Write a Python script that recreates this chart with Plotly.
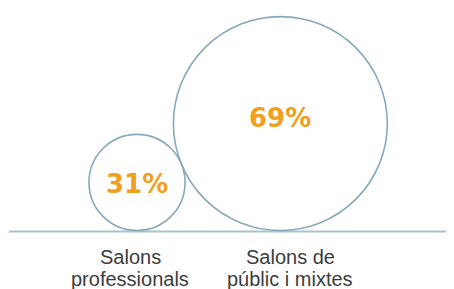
import math
import plotly.graph_objects as go

categories = [["Salons", "professionals"], ["Salons de", "públic i mixtes"]]
values = [31, 69]
value_labels = ["31%", "69%"]

W, H = 454, 289
OFF = 8               # page body margin, so data units equal page pixels
base_y = 230.5
scale = 1.55          # px of radius per percentage point
x_first = 137
label_dx = [-7, 10]
line_y = [257, 279]

r = [v * scale for v in values]
dx = math.sqrt((r[0] + r[1]) ** 2 - (r[1] - r[0]) ** 2)
cx = [x_first, x_first + dx]
cy = [base_y - ri for ri in r]

fig = go.Figure()
fig.add_trace(go.Scatter(x=[OFF, W + OFF], y=[OFF, H + OFF], mode="markers",
                         marker=dict(opacity=0), hoverinfo="skip", showlegend=False))

shapes = [dict(type="line", xref="x", yref="y", x0=9, x1=W + OFF, y0=base_y + 1, y1=base_y + 1,
               line=dict(color="#a8c3cf", width=2), layer="below")]
for i in range(2):
    shapes.append(dict(type="circle", xref="x", yref="y",
                       x0=cx[i] - r[i], x1=cx[i] + r[i], y0=cy[i] - r[i], y1=cy[i] + r[i],
                       line=dict(color="#86aab9", width=1.6), fillcolor="rgba(0,0,0,0)"))

annotations = []
label_y = [cy[0] + 2, cy[1] - 6]
for i in range(2):
    annotations.append(dict(x=cx[i], y=label_y[i], xref="x", yref="y", text=value_labels[i],
                            showarrow=False,
                            font=dict(family="DejaVu Sans", size=26, color="#f0a01e", weight="bold")))
    for j, line in enumerate(categories[i]):
        annotations.append(dict(x=cx[i] + label_dx[i], y=line_y[j], xref="x", yref="y",
                                text=line, showarrow=False, yanchor="middle",
                                font=dict(family="Liberation Sans", size=20, color="#3d3d3d")))

fig.update_layout(
    width=W, height=H, margin=dict(l=0, r=0, t=0, b=0),
    paper_bgcolor="white", plot_bgcolor="white",
    xaxis=dict(range=[OFF, W + OFF], visible=False, fixedrange=True),
    yaxis=dict(range=[H + OFF, OFF], visible=False, fixedrange=True),
    shapes=shapes, annotations=annotations, showlegend=False,
)
fig.write_html("out.html")
